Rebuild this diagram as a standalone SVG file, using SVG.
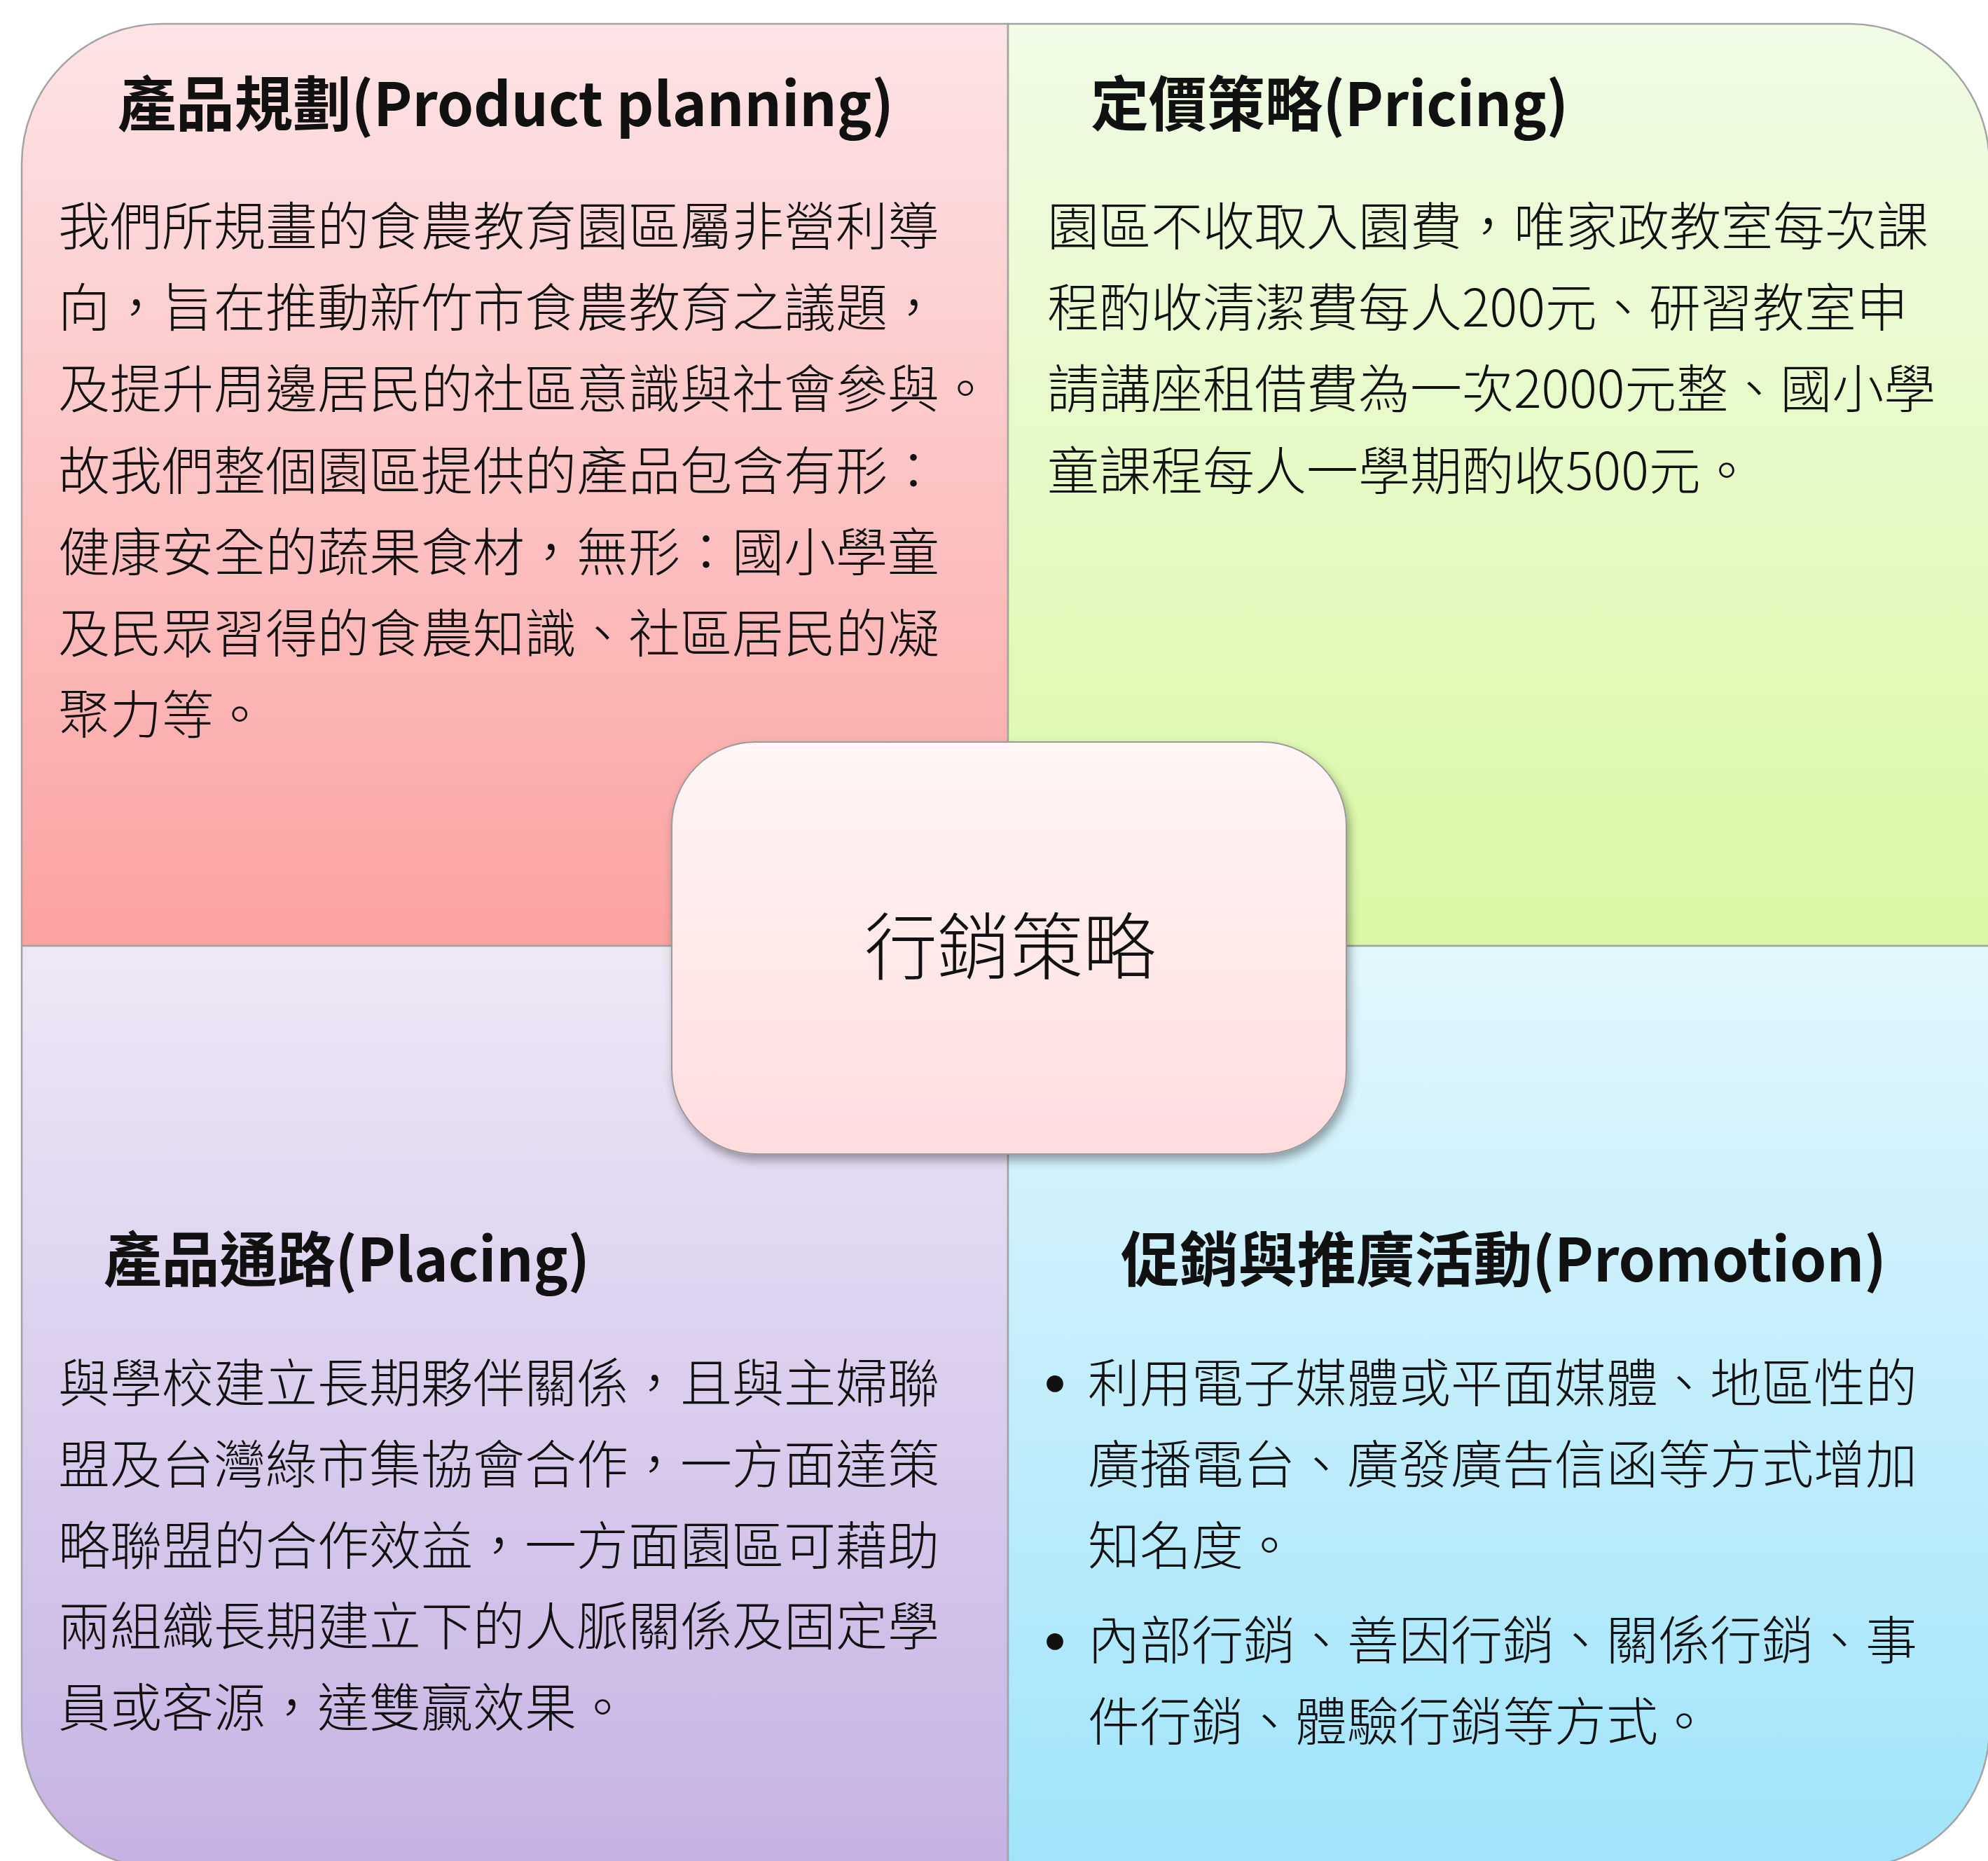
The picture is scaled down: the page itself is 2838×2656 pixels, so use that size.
<svg xmlns="http://www.w3.org/2000/svg" width="2838" height="2656" viewBox="0 0 2838 2656">
<style>
.q{stroke:#a3a3a3;stroke-width:2.5}
.t{font-family:"Noto Sans CJK TC","Noto Sans CJK SC",sans-serif;font-weight:700;font-size:85px;fill:#111}
.b{font-family:"Noto Sans CJK TC","Noto Sans CJK SC",sans-serif;font-weight:300;font-size:74px;fill:#111}
.bu{font-family:"Noto Sans CJK TC","Noto Sans CJK SC",sans-serif;font-weight:400;font-size:112px;fill:#111}
.c{font-family:"Noto Sans CJK TC","Noto Sans CJK SC",sans-serif;font-weight:300;font-size:104px;fill:#111}
</style>
<defs>
<linearGradient id="gTL" x1="0" y1="0" x2="0" y2="1"><stop offset="0" stop-color="#fde4e6"/><stop offset="1" stop-color="#fba2a1"/></linearGradient>
<linearGradient id="gTR" x1="0" y1="0" x2="0" y2="1"><stop offset="0" stop-color="#f1fbe6"/><stop offset="1" stop-color="#d9f9a4"/></linearGradient>
<linearGradient id="gBL" x1="0" y1="0" x2="0" y2="1"><stop offset="0" stop-color="#ede8f6"/><stop offset="1" stop-color="#c6b2e3"/></linearGradient>
<linearGradient id="gBR" x1="0" y1="0" x2="0" y2="1"><stop offset="0" stop-color="#e2f6fc"/><stop offset="1" stop-color="#a0e4fb"/></linearGradient>
<linearGradient id="gC" x1="0" y1="0" x2="0" y2="1"><stop offset="0" stop-color="#fff6f5"/><stop offset="1" stop-color="#ffdcdd"/></linearGradient>
<filter id="sh" x="-10%" y="-10%" width="120%" height="125%"><feDropShadow dx="4" dy="8" stdDeviation="7" flood-color="#000" flood-opacity="0.35"/></filter>
</defs>
<g id="product">
<path class="q" fill="url(#gTL)" d="M31,1350 V234 A200,200 0 0 1 231,34 H1439 V1350 Z"/>
<text class="t" x="168" y="180" textLength="1108" lengthAdjust="spacingAndGlyphs">產品規劃(Product planning)</text>
<text class="b" x="83" y="350">我們所規畫的食農教育園區屬非營利導</text>
<text class="b" x="83" y="466">向，旨在推動新竹市食農教育之議題，</text>
<text class="b" x="83" y="582">及提升周邊居民的社區意識與社會參與。</text>
<text class="b" x="83" y="699">故我們整個園區提供的產品包含有形：</text>
<text class="b" x="83" y="815">健康安全的蔬果食材，無形：國小學童</text>
<text class="b" x="83" y="931">及民眾習得的食農知識、社區居民的凝</text>
<text class="b" x="83" y="1047">聚力等。</text>
</g>
<g id="pricing">
<path class="q" fill="url(#gTR)" d="M1439,34 H2640 A200,200 0 0 1 2840,234 V1350 H1439 Z"/>
<text class="t" x="1557" y="180" textLength="682" lengthAdjust="spacingAndGlyphs">定價策略(Pricing)</text>
<text class="b" x="1495" y="350">園區不收取入園費，唯家政教室每次課</text>
<text class="b" x="1495" y="466">程酌收清潔費每人200元、研習教室申</text>
<text class="b" x="1495" y="582">請講座租借費為一次2000元整、國小學</text>
<text class="b" x="1495" y="699">童課程每人一學期酌收500元。</text>
</g>
<g id="placing">
<path class="q" fill="url(#gBL)" d="M31,1350 H1439 V2666 H231 A200,200 0 0 1 31,2466 Z"/>
<text class="t" x="148" y="1829" textLength="694" lengthAdjust="spacingAndGlyphs">產品通路(Placing)</text>
<text class="b" x="83" y="2001">與學校建立長期夥伴關係，且與主婦聯</text>
<text class="b" x="83" y="2117">盟及台灣綠市集協會合作，一方面達策</text>
<text class="b" x="83" y="2233">略聯盟的合作效益，一方面園區可藉助</text>
<text class="b" x="83" y="2348">兩組織長期建立下的人脈關係及固定學</text>
<text class="b" x="83" y="2464">員或客源，達雙贏效果。</text>
</g>
<g id="promotion">
<path class="q" fill="url(#gBR)" d="M1439,1350 H2840 V2466 A200,200 0 0 1 2640,2666 H1439 Z"/>
<text class="t" x="1600" y="1829" textLength="1093" lengthAdjust="spacingAndGlyphs">促銷與推廣活動(Promotion)</text>
<text class="bu" x="1506" y="2018" text-anchor="middle">•</text>
<text class="b" x="1553" y="2001">利用電子媒體或平面媒體、地區性的</text>
<text class="b" x="1553" y="2117">廣播電台、廣發廣告信函等方式增加</text>
<text class="b" x="1553" y="2233">知名度。</text>
<text class="bu" x="1506" y="2386" text-anchor="middle">•</text>
<text class="b" x="1553" y="2368">內部行銷、善因行銷、關係行銷、事</text>
<text class="b" x="1553" y="2484">件行銷、體驗行銷等方式。</text>
</g>
<g id="connectors"></g>
<g id="center">
<rect x="959" y="1059" width="963" height="588" rx="120" ry="120" fill="url(#gC)" stroke="#9a9a9a" stroke-width="2" filter="url(#sh)"/>
<text class="c" x="1442" y="1390" text-anchor="middle">行銷策略</text>
</g>
</svg>
